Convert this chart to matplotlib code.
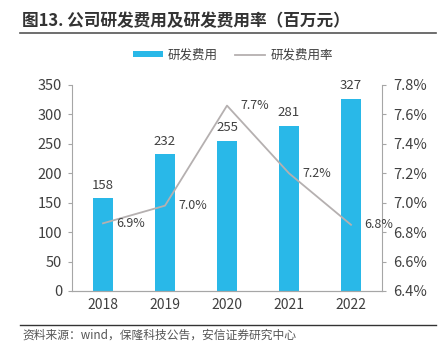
import matplotlib.pyplot as plt
from matplotlib.ticker import FuncFormatter

plt.rcParams['font.family'] = ['Noto Sans CJK SC', 'DejaVu Sans']

years = ["2018", "2019", "2020", "2021", "2022"]
rd_cost = [158, 232, 255, 281, 327]
rd_rate = [6.86, 6.98, 7.66, 7.20, 6.85]
rate_labels = ["6.9%", "7.0%", "7.7%", "7.2%", "6.8%"]

bar_color = "#29B8E8"
line_color = "#B5B0B0"
text_color = "#404040"
axis_color = "#A6A6A6"

fig = plt.figure(figsize=(4.48, 3.43), dpi=100)
ax = fig.add_axes([72 / 448, 1 - 291 / 343, 310 / 448, 206 / 343])
x = list(range(len(years)))
ax.bar(x, rd_cost, width=0.31, color=bar_color, label="研发费用", zorder=2)
ax.set_ylim(0, 350)
ax.set_yticks(range(0, 351, 50))
ax.set_xlim(-0.5, len(years) - 0.5)
ax.set_xticks(x)
ax.set_xticklabels(years)
for xi, v in zip(x, rd_cost):
    ax.text(xi, v + 11, str(v), ha="center", va="bottom", fontsize=9.5, color=text_color)

ax2 = ax.twinx()
ax2.plot(x, rd_rate, color=line_color, lw=1.3, label="研发费用率", zorder=3)
ax2.set_ylim(6.4, 7.8)
ax2.set_yticks([6.4, 6.6, 6.8, 7.0, 7.2, 7.4, 7.6, 7.8])
ax2.yaxis.set_major_formatter(FuncFormatter(lambda v, p: f"{v:.1f}%"))
for xi, v, lab in zip(x, rd_rate, rate_labels):
    ax2.text(xi + 0.22, v, lab, ha="left", va="center", fontsize=9, color=text_color)

for a in (ax, ax2):
    a.spines["top"].set_visible(False)
    a.spines["left"].set_color(axis_color)
    a.spines["right"].set_color(axis_color)
    a.spines["bottom"].set_color(axis_color)
    a.tick_params(colors=text_color, labelsize=10.5, length=3, width=0.8)
    a.tick_params(axis="both", color=axis_color)
ax.spines["right"].set_visible(False)
ax2.spines["left"].set_visible(False)
ax.tick_params(axis="x", length=0, pad=5, labelsize=10)
ax.tick_params(axis="y", pad=4)
ax2.tick_params(axis="y", pad=5)

h1, l1 = ax.get_legend_handles_labels()
h2, l2 = ax2.get_legend_handles_labels()
fig.legend(h1 + h2, l1 + l2, loc="center", bbox_to_anchor=(0.52, 1 - 55 / 343), ncol=2,
           frameon=False, fontsize=9, labelcolor=text_color, handlelength=2.4,
           handleheight=0.4, handletextpad=0.4, columnspacing=1.4)

fig.text(22 / 448, 1 - 21 / 343, "图13. 公司研发费用及研发费用率（百万元）", fontsize=12,
         fontweight="bold", color="#333333", va="center", ha="left")
fig.add_artist(plt.Line2D([20 / 448, 436 / 448], [1 - 33 / 343] * 2, color="#555555", lw=1.2))
fig.add_artist(plt.Line2D([20 / 448, 436 / 448], [1 - 325 / 343] * 2, color="#333333", lw=1.0))
fig.text(22 / 448, 1 - 335 / 343, "资料来源：wind，保隆科技公告，安信证券研究中心", fontsize=8.5,
         style="italic", color="#555555", va="center", ha="left")

fig.savefig("out.png", dpi=100)
